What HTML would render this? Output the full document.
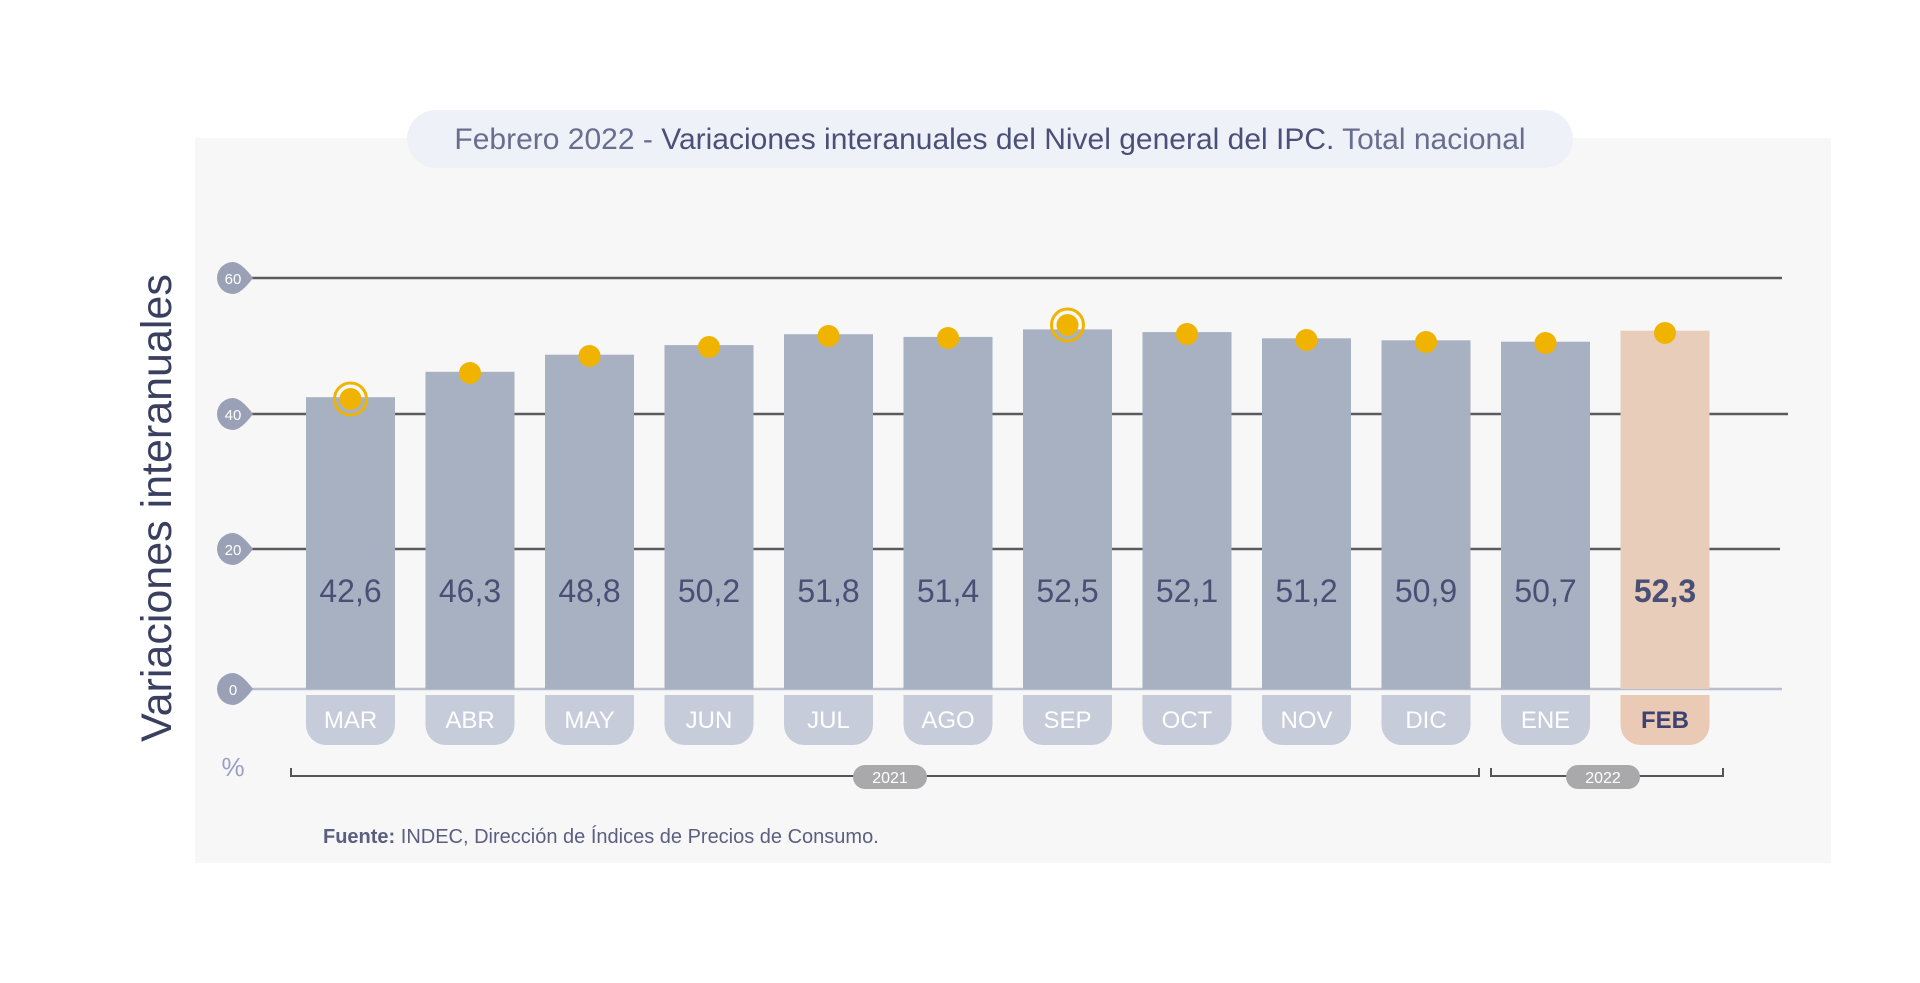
<!DOCTYPE html>
<html><head><meta charset="utf-8"><style>
html,body{margin:0;padding:0;background:#fff;width:1920px;height:983px;overflow:hidden}
svg{display:block;font-family:"Liberation Sans",sans-serif}
</style></head><body>
<svg width="1920" height="983" viewBox="0 0 1920 983">
<rect x="195" y="138" width="1636" height="725" fill="#f7f7f7"/>
<rect x="407" y="110" width="1166" height="58" rx="29" fill="#eef1f7"/>
<text x="990" y="149" text-anchor="middle" font-size="30" fill="#6a6e8e">Febrero 2022 - <tspan fill="#4c5078">Variaciones interanuales del Nivel general del IPC.</tspan> Total nacional</text>
<g stroke="#5a5a60" stroke-width="2.5">
<line x1="251" y1="278" x2="1782" y2="278"/>
<line x1="251" y1="414" x2="1788" y2="414"/>
<line x1="251" y1="549" x2="1780" y2="549"/>
</g>
<line x1="251" y1="689" x2="1782" y2="689" stroke="#b9bfcc" stroke-width="2.5"/>
<g fill="#9aa0b6">
<path d="M233 262 a16 16 0 1 0 0 32 q8 0 20 -16 q-12 -16 -20 -16z"/>
<path d="M233 398 a16 16 0 1 0 0 32 q8 0 20 -16 q-12 -16 -20 -16z"/>
<path d="M233 533 a16 16 0 1 0 0 32 q8 0 20 -16 q-12 -16 -20 -16z"/>
<path d="M233 673 a16 16 0 1 0 0 32 q8 0 20 -16 q-12 -16 -20 -16z"/>
</g>
<g fill="#fff" font-size="15" text-anchor="middle">
<text x="233" y="284">60</text><text x="233" y="420">40</text><text x="233" y="555">20</text><text x="233" y="695">0</text>
</g>
<text transform="translate(171,508) rotate(-90)" text-anchor="middle" font-size="43" fill="#3a3f60">Variaciones interanuales</text>
<text x="233" y="776" text-anchor="middle" font-size="26" fill="#9aa0c4">%</text>

<g fill="#a7b1c2">
<rect x="306" y="397.2" width="89" height="291.8"/>
<rect x="425.5" y="371.8" width="89" height="317.2"/>
<rect x="545" y="354.7" width="89" height="334.3"/>
<rect x="664.5" y="345.1" width="89" height="343.9"/>
<rect x="784" y="334.2" width="89" height="354.8"/>
<rect x="903.5" y="336.9" width="89" height="352.1"/>
<rect x="1023" y="329.4" width="89" height="359.6"/>
<rect x="1142.5" y="332.1" width="89" height="356.9"/>
<rect x="1262" y="338.3" width="89" height="350.7"/>
<rect x="1381.5" y="340.3" width="89" height="348.7"/>
<rect x="1501" y="341.7" width="89" height="347.3"/>
</g>
<rect x="1620.5" y="330.7" width="89" height="358.3" fill="#e8cdbb"/>

<g font-size="32" fill="#4a4f75" text-anchor="middle">
<text x="350.5" y="602">42,6</text>
<text x="470" y="602">46,3</text>
<text x="589.5" y="602">48,8</text>
<text x="709" y="602">50,2</text>
<text x="828.5" y="602">51,8</text>
<text x="948" y="602">51,4</text>
<text x="1067.5" y="602">52,5</text>
<text x="1187" y="602">52,1</text>
<text x="1306.5" y="602">51,2</text>
<text x="1426" y="602">50,9</text>
<text x="1545.5" y="602">50,7</text>
<text x="1665" y="602" font-weight="bold">52,3</text>
</g>

<g fill="#c6ccd9">
<path d="M306 695 h89 v30 a20 20 0 0 1 -20 20 h-49 a20 20 0 0 1 -20 -20z"/>
<path d="M425.5 695 h89 v30 a20 20 0 0 1 -20 20 h-49 a20 20 0 0 1 -20 -20z"/>
<path d="M545 695 h89 v30 a20 20 0 0 1 -20 20 h-49 a20 20 0 0 1 -20 -20z"/>
<path d="M664.5 695 h89 v30 a20 20 0 0 1 -20 20 h-49 a20 20 0 0 1 -20 -20z"/>
<path d="M784 695 h89 v30 a20 20 0 0 1 -20 20 h-49 a20 20 0 0 1 -20 -20z"/>
<path d="M903.5 695 h89 v30 a20 20 0 0 1 -20 20 h-49 a20 20 0 0 1 -20 -20z"/>
<path d="M1023 695 h89 v30 a20 20 0 0 1 -20 20 h-49 a20 20 0 0 1 -20 -20z"/>
<path d="M1142.5 695 h89 v30 a20 20 0 0 1 -20 20 h-49 a20 20 0 0 1 -20 -20z"/>
<path d="M1262 695 h89 v30 a20 20 0 0 1 -20 20 h-49 a20 20 0 0 1 -20 -20z"/>
<path d="M1381.5 695 h89 v30 a20 20 0 0 1 -20 20 h-49 a20 20 0 0 1 -20 -20z"/>
<path d="M1501 695 h89 v30 a20 20 0 0 1 -20 20 h-49 a20 20 0 0 1 -20 -20z"/>
</g>
<path d="M1620.5 695 h89 v30 a20 20 0 0 1 -20 20 h-49 a20 20 0 0 1 -20 -20z" fill="#eac9b5"/>
<g font-size="24" fill="#fff" text-anchor="middle">
<text x="350.5" y="728">MAR</text>
<text x="470" y="728">ABR</text>
<text x="589.5" y="728">MAY</text>
<text x="709" y="728">JUN</text>
<text x="828.5" y="728">JUL</text>
<text x="948" y="728">AGO</text>
<text x="1067.5" y="728">SEP</text>
<text x="1187" y="728">OCT</text>
<text x="1306.5" y="728">NOV</text>
<text x="1426" y="728">DIC</text>
<text x="1545.5" y="728">ENE</text>
<text x="1665" y="728" fill="#3d4270" font-weight="bold">FEB</text>
</g>

<g fill="none" stroke="#f0b400" stroke-width="3">
<circle cx="350.5" cy="399" r="16"/>
<circle cx="1067.5" cy="325" r="16"/>
</g>
<g fill="#f0b400">
<circle cx="350.5" cy="399" r="11"/>
<circle cx="470" cy="373" r="11"/>
<circle cx="589.5" cy="356" r="11"/>
<circle cx="709" cy="347" r="11"/>
<circle cx="828.5" cy="336" r="11"/>
<circle cx="948" cy="338" r="11"/>
<circle cx="1067.5" cy="325" r="11"/>
<circle cx="1187" cy="334" r="11"/>
<circle cx="1306.5" cy="340" r="11"/>
<circle cx="1426" cy="342" r="11"/>
<circle cx="1545.5" cy="343" r="11"/>
<circle cx="1665" cy="333" r="11"/>
</g>

<g stroke="#555" stroke-width="2" fill="none">
<path d="M291 768 v8 h1188 v-8"/>
<path d="M1491 768 v8 h232 v-8"/>
</g>
<rect x="853" y="765" width="74" height="24" rx="12" fill="#a9a9ab"/>
<text x="890" y="783" text-anchor="middle" font-size="16" fill="#fff">2021</text>
<rect x="1566" y="765" width="74" height="24" rx="12" fill="#a9a9ab"/>
<text x="1603" y="783" text-anchor="middle" font-size="16" fill="#fff">2022</text>
<text x="323" y="843" font-size="20" fill="#5a5f80"><tspan font-weight="bold">Fuente:</tspan> INDEC, Dirección de Índices de Precios de Consumo.</text>
</svg>
</body></html>
